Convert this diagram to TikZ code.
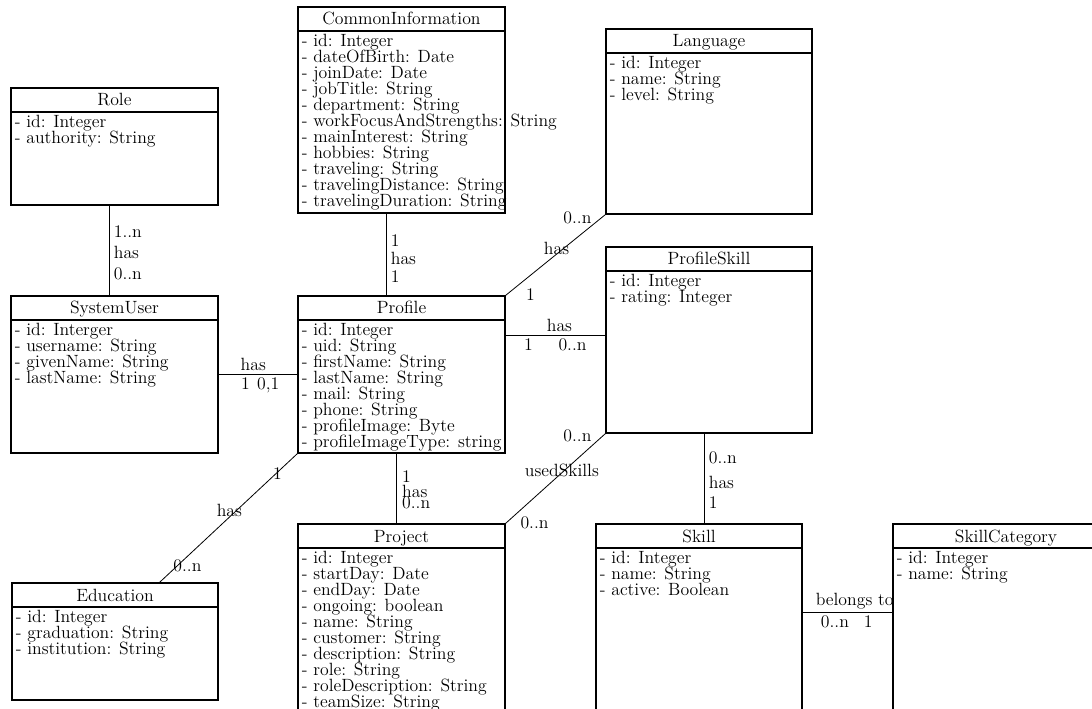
\documentclass[tikz,border=0pt]{standalone}
\usetikzlibrary{fit,calc}
\newcommand\mytightfont{\fontsize{13.3pt}{12pt}\selectfont\lineskiplimit=-20pt\relax\lineskip=0pt\relax}
\tikzset{
  every node/.style={font=\mytightfont},
  classbox/.style={draw, line width=0.8pt, inner sep=0pt},
  classline/.style={line width=0.8pt},
  titletext/.style={inner sep=0pt},
  attrtext/.style={inner sep=0pt, align=left},
  conn/.style={line width=0.6pt},
  lbl/.style={inner sep=1pt},
  lblup/.style={inner sep=1pt, above, yshift=1.2pt},
  lbldown/.style={inner sep=1pt, below, yshift=-1.2pt},
}
\newcommand\umlclass[7]{%
  \node[classbox, fit={(#2,#3) (#4,#5)}] (#1) {};
  \draw[classline] (#2,#3+24) -- (#4,#3+24);
  \node[titletext, anchor=base] at ({(#2+#4)/2},#3+18) {#6};
  \node[attrtext, anchor=north west] at (#2+3.5,#3+26.5) {#7};
}
\begin{document}
\begin{tikzpicture}[x=0.75pt,y=-0.75pt]
\useasboundingbox (0,0) rectangle (1092,709);
\clip (0,0) rectangle (1092,709);
\fill[white] (0,0) rectangle (1092,709);

\umlclass{role}{11}{88}{218}{205}{Role}{- id: Integer\\- authority: String}
\umlclass{cinfo}{298}{7}{505}{213}{CommonInformation}{- id: Integer\\- dateOfBirth: Date\\- joinDate: Date\\- jobTitle: String\\- department: String\\- workFocusAndStrengths: String\\- mainInterest: String\\- hobbies: String\\- traveling: String\\- travelingDistance: String\\- travelingDuration: String}
\umlclass{lang}{606}{29}{812}{214}{Language}{- id: Integer\\- name: String\\- level: String}
\umlclass{su}{11}{296}{218}{453}{SystemUser}{- id: Interger\\- username: String\\- givenName: String\\- lastName: String}
\umlclass{pr}{298}{296}{505}{453}{Profile}{- id: Integer\\- uid: String\\- firstName: String\\- lastName: String\\- mail: String\\- phone: String\\- profileImage: Byte\\- profileImageType: string}
\umlclass{ps}{606}{247}{812}{433}{ProfileSkill}{- id: Integer\\- rating: Integer}
\umlclass{edu}{12}{583}{218}{700}{Education}{- id: Integer\\- graduation: String\\- institution: String}
\umlclass{proj}{298}{524}{505}{740}{Project}{- id: Integer\\- startDay: Date\\- endDay: Date\\- ongoing: boolean\\- name: String\\- customer: String\\- description: String\\- role: String\\- roleDescription: String\\- teamSize: String}
\umlclass{sk}{596}{524}{802}{740}{Skill}{- id: Integer\\- name: String\\- active: Boolean}
\umlclass{sc}{893}{524}{1119}{740}{SkillCategory}{- id: Integer\\- name: String}

% Role -- SystemUser
\coordinate (c1) at ([xshift=74.25pt]role.south west);
\draw[conn] (c1) -- (c1 |- su.north)
  node[lbl, pos=0.29, anchor=west, xshift=2pt] {1..n}
  node[lbl, pos=0.52, anchor=west, xshift=2pt] {has}
  node[lbl, pos=0.76, anchor=west, xshift=2pt] {0..n};

% CommonInformation -- Profile
\coordinate (c2) at ([xshift=66.75pt]cinfo.south west);
\draw[conn] (c2) -- (c2 |- pr.north)
  node[lbl, pos=0.33, anchor=west, xshift=2pt] {1}
  node[lbl, pos=0.55, anchor=west, xshift=2pt] {has}
  node[lbl, pos=0.77, anchor=west, xshift=2pt] {1};

% Profile -- Project
\coordinate (c3) at ([xshift=74.25pt]pr.south west);
\draw[conn] (c3) -- (c3 |- proj.north)
  node[lbl, pos=0.33, anchor=west, xshift=3pt] {1}
  node[lbl, pos=0.54, anchor=west, xshift=3pt] {has}
  node[lbl, pos=0.71, anchor=west, xshift=3pt] {0..n};

% ProfileSkill -- Skill
\coordinate (c4) at ([xshift=74.25pt]ps.south west);
\draw[conn] (c4) -- (c4 |- sk.north)
  node[lbl, pos=0.27, anchor=west, xshift=2pt] {0..n}
  node[lbl, pos=0.54, anchor=west, xshift=2pt] {has}
  node[lbl, pos=0.77, anchor=west, xshift=2pt] {1};

% SystemUser -- Profile
\draw[conn] (su.east) -- (su.east -| pr.west)
  node[lblup, pos=0.44] {has}
  node[lbldown, pos=0.34] {1}
  node[lbldown, pos=0.63] {0,1};

% Profile -- ProfileSkill
\coordinate (c5) at ([yshift=-30pt]pr.north east);
\draw[conn] (c5) -- (c5 -| ps.west)
  node[lblup, pos=0.54] {has}
  node[lbldown, pos=0.23] {1}
  node[lbldown, pos=0.67] {0..n};

% Skill -- SkillCategory
\coordinate (c6) at ([yshift=-66.75pt]sk.north east);
\draw[conn] (c6) -- (c6 -| sc.west)
  node[lblup, pos=0.58] {belongs to}
  node[lbldown, pos=0.36] {0..n}
  node[lbldown, pos=0.73] {1};

% Profile -- Language
\draw[conn] (pr.north east) -- (lang.south west)
  node[lbl, pos=0, xshift=18.75pt, yshift=0.75pt] {1}
  node[lbl, pos=0.51, yshift=4.5pt] {has}
  node[lbl, pos=1, xshift=-21pt, yshift=-2.25pt] {0..n};

% Project -- ProfileSkill
\draw[conn] (proj.north east) -- (ps.south west)
  node[lbl, pos=0, xshift=21.75pt, yshift=0.75pt] {0..n}
  node[lbl, pos=0.564, yshift=2pt] {usedSkills}
  node[lbl, pos=1, xshift=-21pt, yshift=-1.5pt] {0..n};

% Profile -- Education
\coordinate (c7) at ([xshift=111pt]edu.north west);
\draw[conn] (pr.south west) -- (c7)
  node[lbl, pos=0, xshift=-15pt, yshift=-15pt] {1}
  node[lbl, pos=0.493, yshift=5.25pt] {has}
  node[lbl, pos=1, xshift=21pt, yshift=12.75pt] {0..n};
\end{tikzpicture}
\end{document}
